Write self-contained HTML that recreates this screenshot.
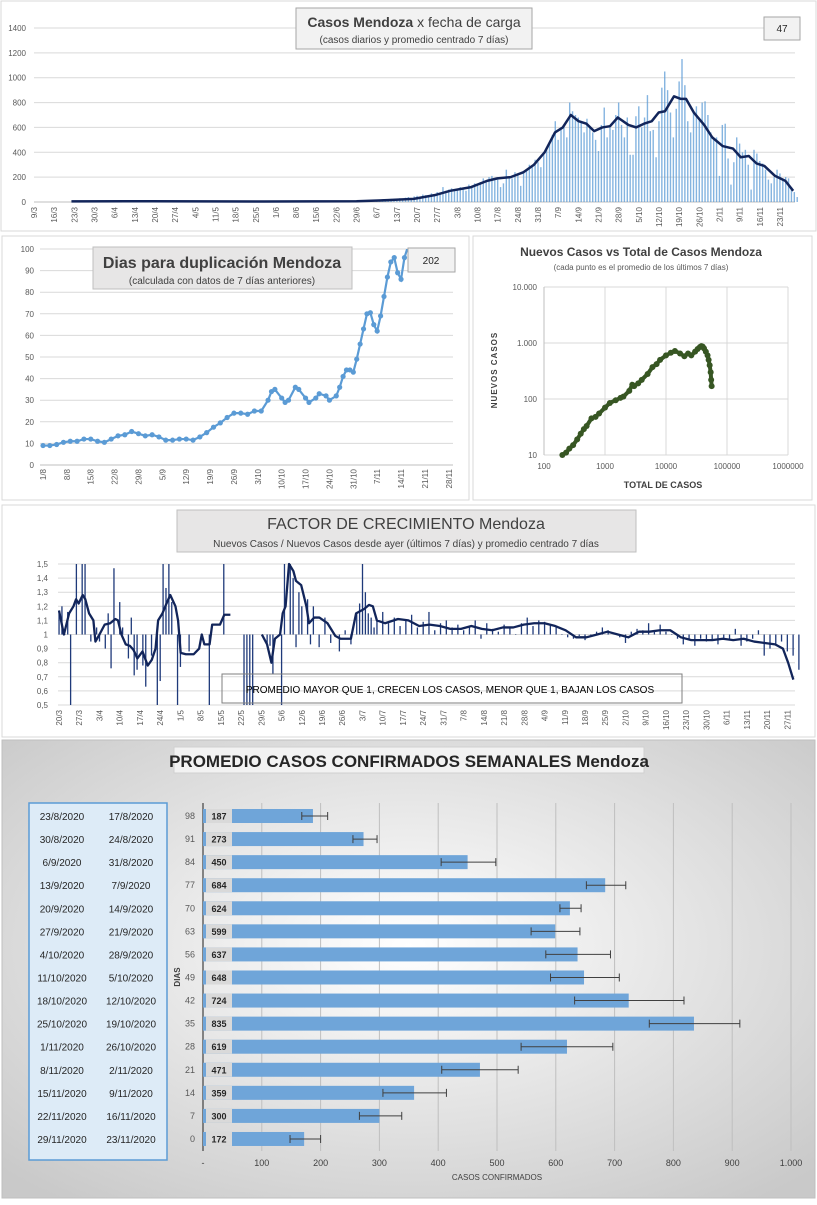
<!DOCTYPE html>
<html><head><meta charset="utf-8">
<style>
body{margin:0;background:#fff;font-family:"Liberation Sans",sans-serif;}
svg text{font-family:"Liberation Sans",sans-serif;}
</style></head>
<body>
<svg id="s" width="817" height="1200" viewBox="0 0 817 1200" xmlns="http://www.w3.org/2000/svg">
<defs>
<radialGradient id="bg" cx="0.5" cy="0.45" r="0.7">
<stop offset="0" stop-color="#ffffff"/><stop offset="1" stop-color="#c9c9c9"/>
</radialGradient>
</defs>
<!-- panels -->
<rect x="1" y="1" width="815" height="230" fill="#fff" stroke="#d9d9d9"/>
<rect x="2" y="236" width="467" height="264" fill="#fff" stroke="#d9d9d9"/>
<rect x="473" y="236" width="339" height="264" fill="#fff" stroke="#d9d9d9"/>
<rect x="2" y="505" width="813" height="232" fill="#fff" stroke="#d9d9d9"/>
<rect x="2" y="740" width="813" height="458" fill="url(#bg)" stroke="#bfbfbf"/>
<g id="g1"></g><g id="g2"></g><g id="g3"></g><g id="g4"></g><g id="g5"></g>
</svg>
<script>
// ---- chart 1 data: daily cases (day offsets from 9/3) ----
const c1TickValues=[0,200,400,600,800,1000,1200,1400];
const c1LineDays=[13,40,80,112,122.7,131.8,139.1,144.5,151.8,157.3,160.9,165.5,170,173.6,177.3,180.9,183.6,186.4,189.1,191.8,194.5,197.3,200,202.7,206.4,209.1,211.8,214.5,216.9,219.1,222.2,224.5,226.4,229.1,232.7,235.5,239.1,242.7,245.4,248.2,250.9,253.6,257.3,260.9,263.6];
const c1LineVals=[5,6,4,6,15,25,55,90,120,170,190,200,240,300,400,560,600,700,650,630,570,600,610,680,620,600,630,650,720,730,850,830,830,720,620,520,450,430,360,370,310,290,210,170,90];
const c1BarStart=119;
const c1Bars=[15,10,20,12,18,25,15, 20,30,25,35,40,30,45, 50,40,60,55,45,70,60, 80,70,120,90,100,110,95, 100,120,115,90,140,130,150, 130,160,190,170,200,210,175, 180,120,150,260,200,190,240, 230,130,250,260,300,280,340, 320,280,400,440,470,540,650, 500,600,620,520,800,730,700, 680,650,560,670,600,560,500, 410,620,760,520,600,580,700, 800,620,520,680,380,380,690, 770,600,680,860,570,580,360, 650,920,1050,900,720,520,750, 970,1150,940,650,560,720,770, 660,800,810,700,560,500,520, 210,620,630,350,140,320,520, 470,400,420,300,100,420,390, 330,310,260,180,150,200,260, 230,180,200,190,120,80,40];

// ---- chart 2 data: doubling days (day offsets from 1/8) ----
const c2TickValues=[0,10,20,30,40,50,60,70,80,90,100];
const c2Days=[0,2,4,6,8,10,12,14,16,18,20,22,24,26,28,30,32,34,36,38,40,42,44,46,48,50,52,54,56,58,60,62,64,66,67,68,70,71,72,74,75,77,78,80,81,83,84,86,87,88,89,90,91,92,93,94,95,96,97,98,99,100,101,102,103,104,105,106,107];
const c2Vals=[9,9,9.5,10.5,11,11,12,12,11,10.5,12,13.5,14,15.5,14.5,13.5,14,13,11.5,11.5,12,12,11.5,13,15,17.5,19.5,22,24,24,23.5,25,25,30,34,35,31,29,30,36,35,31,29,31,33,32,30,32,36,41,44,44,43,49,56,63,70,70.5,65,62,69,78,87,94,96,89,86,96,101];

// ---- chart 3 data: scatter new vs total ----
const c3Total=[200,230,260,300,350,400,450,500,600,700,800,1000,1200,1500,1800,2000,2500,2800,3000,3500,4000,5000,6000,7000,8000,10000,12000,14000,17000,20000,23000,26000,30000,33000,36000,38000,40000,42000,45000,48000,50000,52000,54000,55000,56000];
const c3New=[10,11,13,15,19,24,29,33,45,48,55,70,85,95,105,110,140,180,170,190,220,280,370,420,500,600,670,720,650,580,650,600,700,780,850,880,860,800,700,600,500,400,300,220,170];

// ---- chart 4 data: growth factor (day offsets from 20/3) ----
const c4TickValues=[0.5,0.6,0.7,0.8,0.9,1,1.1,1.2,1.3,1.4,1.5];
const c4LineDays=[0,1.7,3.5,5,5.9,6.8,8.2,9.1,10.4,11.9,12.6,14,15.8,17.7,19.5,20.4,21.6,23.1,24.5,25.8,27.1,28.9,30.7,32.1,33.4,34.3,35.8,37.2,38.5,40.3,41.2,42.1,43.9,46.6,48.5,49.4,50.3,52.1,53,55.7,57.2,59.3,null,70.2,72,73.5,74.7,76.5,77.4,78.4,79.6,81.1,82,83.8,85.6,86.5,88.3,90.1,92.9,95.6,97.4,101,102.8,105.5,107.3,108.6,110,112.8,117.3,120.9,124.6,128.2,131.8,135.4,139.1,142.7,146.3,149.9,153.6,157.2,160.8,164.4,168,171.7,175.3,178.9,182.5,186.2,189.8,193.4,197,200.7,204.3,207.9,211.5,215.2,218.8,222.4,226,229.7,233.3,236.9,240.5,244.2,247.8,250.5,252.3,254.1];
const c4LineVals=[1.17,1.0,1.15,1.2,1.25,1.22,1.28,1.25,1.15,1.1,0.95,1.0,1.07,1.08,1.11,1.1,1.0,0.93,0.92,0.89,0.83,0.88,0.78,0.82,0.9,1.1,1.15,1.22,1.28,1.2,1.1,0.87,0.86,0.86,0.9,1.0,0.93,0.93,1.07,1.07,1.14,1.14,null,1.0,0.93,0.8,0.97,1.0,1.15,1.2,1.5,1.45,1.38,1.35,1.2,1.08,1.12,1.12,1.08,0.99,0.97,0.97,1.15,1.18,1.21,1.2,1.1,1.08,1.11,1.1,1.06,1.07,1.06,1.04,1.04,1.06,1.04,1.03,1.05,1.05,1.07,1.08,1.08,1.06,1.03,0.98,0.98,1.0,1.02,1.0,0.98,1.02,1.02,1.03,1.03,0.98,0.96,0.96,0.96,0.97,0.96,0.97,0.95,0.94,0.93,0.9,0.8,0.68];
const c4BarDays=[0,1,2,3,4,6,8,9,11,13,14,16,17,18,19,21,22,24,25,26,27,29,30,32,34,35,36,37,38,39,41,42,45,52,57,64,65,66,67,72,73,74,77,78,80,81,82,83,84,86,87,88,90,92,94,97,99,101,103,104,105,106,107,108,109];
const c4BarVals=[1.17,1.2,1.0,1.16,0.5,1.5,1.5,1.5,0.95,1.05,0.95,0.9,1.15,0.76,1.47,1.23,1.05,0.83,1.12,0.71,0.75,0.78,0.63,0.85,0.5,0.67,1.5,1.33,1.5,1.23,0.5,0.77,0.88,0.5,1.5,0.5,0.5,0.5,0.5,0.91,0.92,0.72,0.5,1.5,1.5,1.4,0.91,1.3,1.2,1.25,0.93,1.2,0.91,1.12,0.94,0.88,1.03,0.93,1.15,1.22,1.5,1.3,1.15,1.12,1.05];
const c4TailStart=110;
const c4TailVals=[1.1,1.16,1.08,1.12,1.06,1.1,1.14,1.05,1.09,1.16,1.03,1.08,1.1,1.05,1.07,1.03,1.05,1.1,0.97,1.08,1.04,1.02,1.07,1.05,1.0,1.08,1.12,1.06,1.1,1.09,1.07,1.05,1.0,0.98,0.97,0.99,0.96,1.0,1.02,1.05,1.03,1.01,0.98,0.94,1.02,1.04,1.03,1.08,1.03,1.07,1.02,1.0,0.97,0.93,0.96,0.92,0.97,0.95,0.96,0.93,0.97,0.96,1.04,0.92,0.95,0.97,1.03,0.85,0.9,0.93,0.95,0.88,0.85,0.75];

// ---- chart 5 data: weekly averages ----
const c5End=["23/8/2020","30/8/2020","6/9/2020","13/9/2020","20/9/2020","27/9/2020","4/10/2020","11/10/2020","18/10/2020","25/10/2020","1/11/2020","8/11/2020","15/11/2020","22/11/2020","29/11/2020"];
const c5Start=["17/8/2020","24/8/2020","31/8/2020","7/9/2020","14/9/2020","21/9/2020","28/9/2020","5/10/2020","12/10/2020","19/10/2020","26/10/2020","2/11/2020","9/11/2020","16/11/2020","23/11/2020"];
const c5Days=[98,91,84,77,70,63,56,49,42,35,28,21,14,7,0];
const c5Vals=[187,273,450,684,624,599,637,648,724,835,619,471,359,300,172];
const c5ErrLo=[168,255,405,652,607,558,583,591,632,759,541,406,306,266,148];
const c5ErrHi=[212,296,498,719,643,641,693,708,818,913,697,536,414,338,200];
const c5Ticks=[0,100,200,300,400,500,600,700,800,900,1000];

const NS="http://www.w3.org/2000/svg";
function el(parent,tag,attrs,text){const e=document.createElementNS(NS,tag);for(const k in attrs)e.setAttribute(k,attrs[k]);if(text!==undefined)e.textContent=text;parent.appendChild(e);return e;}
function addDays(d0,n){const d=new Date(2020,d0[1]-1,d0[0]);d.setDate(d.getDate()+n);return d.getDate()+"/"+(d.getMonth()+1);}

// ================= chart 1 =================
(function(){
const g=document.getElementById('g1');
const x0=34,pxd=2.88,y0=202,ys=174/1400;
const X=d=>x0+d*pxd, Y=v=>y0-v*ys;
c1TickValues.forEach(v=>{
 const l=el(g,'line',{x1:34,x2:795,y1:Y(v),y2:Y(v),stroke:v?'#d9d9d9':'#bfbfbf'});
 
 
 const t=el(g,'text',{x:26,y:Y(v)+3,'font-size':8,fill:'#595959','text-anchor':'end'},String(v));
 
 
});
for(let d=0;d<=259;d+=7){
 const t=el(g,'text',{transform:`translate(${X(d)+3},207) rotate(-90)`,'font-size':8,fill:'#595959','text-anchor':'end'},addDays([9,3],d));
 
 
}
c1Bars.forEach((v,i)=>{
 const r=el(g,'rect',{x:X(c1BarStart+i)-0.7,y:Y(v),width:1.4,height:v*ys,fill:'#5b9bd5','fill-opacity':0.75});
 
 
});
const p=el(g,'polyline',{points:c1LineDays.map((d,i)=>X(d)+','+Y(c1LineVals[i])).join(' '),fill:'none',stroke:'#12255a','stroke-width':2.5,'stroke-linejoin':'round'});


const tb=el(g,'rect',{x:296,y:8,width:236,height:41,fill:'#f2f2f2',stroke:'#a6a6a6'});


const t1=el(g,'text',{x:414,y:27,'font-size':14,fill:'#404040','text-anchor':'middle'});


el(t1,'tspan',{'font-weight':'bold'},'Casos Mendoza');el(t1,'tspan',{},' x fecha de carga');
const t2=el(g,'text',{x:414,y:43,'font-size':10,fill:'#404040','text-anchor':'middle'},'(casos diarios y promedio  centrado 7 días)');


const nb=el(g,'rect',{x:764,y:17,width:36,height:23,fill:'#f2f2f2',stroke:'#a6a6a6'});


const nt=el(g,'text',{x:782,y:32,'font-size':10,fill:'#262626','text-anchor':'middle'},'47');


})();

// ================= chart 2 =================
(function(){
const g=document.getElementById('g2');
const x0=43,pxd=3.41,y0=465,ys=216/100;
const X=d=>x0+d*pxd, Y=v=>y0-v*ys;
c2TickValues.forEach(v=>{
 const l=el(g,'line',{x1:40,x2:453,y1:Y(v),y2:Y(v),stroke:v?'#d9d9d9':'#bfbfbf'});
 
 
 const t=el(g,'text',{x:34,y:Y(v)+3,'font-size':8,fill:'#595959','text-anchor':'end'},String(v));
 
 
});
for(let d=0;d<=119;d+=7){
 const t=el(g,'text',{transform:`translate(${X(d)+3},469) rotate(-90)`,'font-size':8,fill:'#595959','text-anchor':'end'},addDays([1,8],d));
 
 
}
const cp=el(g,'clipPath',{id:'cp2'});el(cp,'rect',{x:38,y:Y(100),width:420,height:220});
const gg=el(g,'g',{'clip-path':'url(#cp2)'});
const p=el(gg,'polyline',{points:c2Days.map((d,i)=>X(d)+','+Y(c2Vals[i])).join(' '),fill:'none',stroke:'#5b9bd5','stroke-width':2.2});


c2Days.forEach((d,i)=>{
 const c=el(gg,'circle',{cx:X(d),cy:Y(c2Vals[i]),r:2.6,fill:'#5b9bd5'});
 
 
});
const tb=el(g,'rect',{x:93,y:247,width:259,height:42,fill:'#e7e6e6',stroke:'#bfbfbf'});


const t1=el(g,'text',{x:222,y:268,'font-size':16,'font-weight':'bold',fill:'#404040','text-anchor':'middle'},'Dias para duplicación Mendoza');


const t2=el(g,'text',{x:222,y:284,'font-size':10,fill:'#404040','text-anchor':'middle'},'(calculada con datos de 7 días anteriores)');


const nb=el(g,'rect',{x:408,y:248,width:47,height:24,fill:'#f2f2f2',stroke:'#a6a6a6'});


const nt=el(g,'text',{x:431,y:264,'font-size':10,fill:'#262626','text-anchor':'middle'},'202');


})();

// ================= chart 3 =================
(function(){
const g=document.getElementById('g3');
const X=v=>544+(Math.log10(v)-2)*61, Y=v=>455-(Math.log10(v)-1)*56;
[100,1000,10000,100000,1000000].forEach(v=>{
 const l=el(g,'line',{x1:X(v),x2:X(v),y1:Y(10000),y2:Y(10),stroke:'#d9d9d9'});
 
 
 const t=el(g,'text',{x:X(v),y:469,'font-size':8,fill:'#595959','text-anchor':'middle'},String(v));
 
 
});
[[10,'10'],[100,'100'],[1000,'1.000'],[10000,'10.000']].forEach(([v,s])=>{
 const l=el(g,'line',{x1:X(100),x2:X(1000000),y1:Y(v),y2:Y(v),stroke:'#d9d9d9'});
 
 
 const t=el(g,'text',{x:537,y:Y(v)+3,'font-size':8,fill:'#595959','text-anchor':'end'},s);
 
 
});
const ax=el(g,'line',{x1:X(100),x2:X(100),y1:Y(10000),y2:Y(10),stroke:'#bfbfbf'});


c3Total.forEach((v,i)=>{
 const c=el(g,'circle',{cx:X(v),cy:Y(c3New[i]),r:3,fill:'#375623'});
 
 
});
const p=el(g,'polyline',{points:c3Total.map((v,i)=>X(v)+','+Y(c3New[i])).join(' '),fill:'none',stroke:'#375623','stroke-width':4});


const t1=el(g,'text',{x:641,y:256,'font-size':12,'font-weight':'bold',fill:'#404040','text-anchor':'middle'},'Nuevos Casos vs Total de Casos Mendoza');


const t2=el(g,'text',{x:641,y:270,'font-size':8,fill:'#595959','text-anchor':'middle'},'(cada punto es el promedio de los últimos 7 días)');


const t3=el(g,'text',{x:663,y:488,'font-size':9,'font-weight':'bold',fill:'#404040','text-anchor':'middle'},'TOTAL DE CASOS');


const t4=el(g,'text',{transform:'translate(497,370) rotate(-90)','font-size':8,'font-weight':'bold',fill:'#404040','text-anchor':'middle','letter-spacing':1},'NUEVOS  CASOS');


})();

// ================= chart 4 =================
(function(){
const g=document.getElementById('g4');
const x0=59,pxd=2.89,y0=705,ys=141;
const X=d=>x0+d*pxd, Y=v=>y0-(v-0.5)*ys;
c4TickValues.forEach(v=>{
 const l=el(g,'line',{x1:58,x2:795,y1:Y(v),y2:Y(v),stroke:'#d9d9d9'});
 
 
 const t=el(g,'text',{x:48,y:Y(v)+3,'font-size':8,fill:'#595959','text-anchor':'end'},String(v).replace('.',','));
 
 
});
for(let d=0;d<=252;d+=7){
 const t=el(g,'text',{transform:`translate(${X(d)+3},710) rotate(-90)`,'font-size':8,fill:'#595959','text-anchor':'end'},addDays([20,3],d));
 
 
}
function bar(d,v){
 const y1=Y(Math.max(1,v)),y2=Y(Math.min(1,v));
 const r=el(g,'rect',{x:X(d)-0.6,y:y1,width:1.3,height:Math.max(0.5,y2-y1),fill:'#1f3a7a'});
 
 
}
c4BarDays.forEach((d,i)=>bar(d,c4BarVals[i]));
c4TailVals.forEach((v,i)=>bar(c4TailStart+i*2,v));
let segs=[[]];
c4LineDays.forEach((d,i)=>{if(d===null)segs.push([]);else segs[segs.length-1].push(X(d)+','+Y(c4LineVals[i]));});
segs.forEach(s=>{
 const p=el(g,'polyline',{points:s.join(' '),fill:'none',stroke:'#12255a','stroke-width':2.3,'stroke-linejoin':'round'});
 
 
});
const tb=el(g,'rect',{x:177,y:510,width:459,height:42,fill:'#e7e6e6',stroke:'#bfbfbf'});


const t1=el(g,'text',{x:406,y:529,'font-size':16,fill:'#404040','text-anchor':'middle'});


el(t1,'tspan',{},'FACTOR DE CRECIMIENTO ');el(t1,'tspan',{},'Mendoza');
const t2=el(g,'text',{x:406,y:547,'font-size':10,fill:'#404040','text-anchor':'middle'},'Nuevos Casos  / Nuevos Casos desde ayer (últimos 7 días) y promedio  centrado 7 días');


const ab=el(g,'rect',{x:222,y:674,width:460,height:29,fill:'none',stroke:'#7f7f7f'});


const at=el(g,'text',{x:450,y:693,'font-size':10,fill:'#000','text-anchor':'middle'},'PROMEDIO MAYOR QUE 1, CRECEN LOS CASOS, MENOR QUE 1, BAJAN LOS CASOS');


})();

// ================= chart 5 =================
(function(){
const g=document.getElementById('g5');
const x0=203,xs=0.588,yTop=816,step=23.07;
const X=v=>x0+v*xs, Y=i=>yTop+i*step;
const tb=el(g,'rect',{x:174,y:747,width:470,height:26,fill:'#f2f2f2',stroke:'#d0d0d0'});


const t1=el(g,'text',{x:409,y:767,'font-size':17,'font-weight':'bold',fill:'#262626','text-anchor':'middle'},'PROMEDIO CASOS CONFIRMADOS SEMANALES Mendoza');


const lb=el(g,'rect',{x:29,y:803,width:138,height:357,fill:'#ddebf7',stroke:'#5b9bd5','stroke-width':1.5});


c5Ticks.forEach(v=>{
 if(v>0){const l=el(g,'line',{x1:X(v),x2:X(v),y1:803,y2:1151,stroke:'#bfbfbf'});
 
 }
 const t=el(g,'text',{x:X(v),y:1166,'font-size':9,fill:'#404040','text-anchor':'middle'},v===0?'-':v===1000?'1.000':String(v));
 
 
});
const ax=el(g,'line',{x1:x0,x2:x0,y1:803,y2:1151,stroke:'#404040','stroke-width':1.2});


c5Vals.forEach((v,i)=>{
 const y=Y(i);
 const a=el(g,'text',{x:62,y:y+4,'font-size':10,fill:'#262626','text-anchor':'middle'},c5End[i]);
 
 
 const b=el(g,'text',{x:131,y:y+4,'font-size':10,fill:'#262626','text-anchor':'middle'},c5Start[i]);
 
 
 const dd=el(g,'text',{x:195,y:y+3,'font-size':9,fill:'#595959','text-anchor':'end'},String(c5Days[i]));
 
 
 const r=el(g,'rect',{x:X(0),y:y-7,width:v*xs,height:14,fill:'#6fa5d9'});
 
 
 const vb=el(g,'rect',{x:206,y:y-7,width:26,height:14,fill:'#d9d9d9'});
 
 
 const vt=el(g,'text',{x:219,y:y+3.5,'font-size':9,'font-weight':'bold',fill:'#262626','text-anchor':'middle'},String(v));
 
 
 const e=el(g,'path',{d:`M${X(c5ErrLo[i])},${y}H${X(c5ErrHi[i])}M${X(c5ErrLo[i])},${y-4}v8M${X(c5ErrHi[i])},${y-4}v8`,stroke:'#404040','stroke-width':1,fill:'none'});
 
 
});
const xt=el(g,'text',{x:497,y:1180,'font-size':8,fill:'#404040','text-anchor':'middle'},'CASOS CONFIRMADOS');


const yt=el(g,'text',{transform:'translate(180,977) rotate(-90)','font-size':8,'font-weight':'bold',fill:'#404040','text-anchor':'middle'},'DIAS');


})();
</script>
</body></html>
